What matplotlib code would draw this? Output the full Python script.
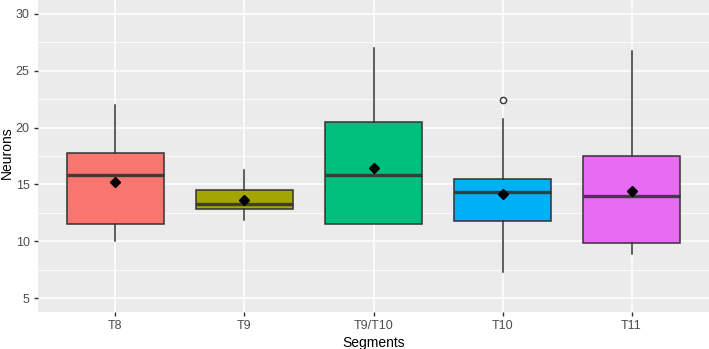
import matplotlib
matplotlib.use("Agg")
import matplotlib.pyplot as plt
from matplotlib.ticker import MultipleLocator

plt.rcParams['font.family'] = ['Liberation Sans', 'DejaVu Sans']

# --------------------------------------------
# Data (box summaries)
# --------------------------------------------
segments = ["T8", "T9", "T9/T10", "T10", "T11"]
whisk_lo = [10.0, 11.85, 11.5, 7.3, 8.85]
q1 = [11.5, 12.85, 11.5, 11.8, 9.8]
median = [15.8, 13.3, 15.8, 14.3, 14.0]
q3 = [17.8, 14.5, 20.5, 15.5, 17.5]
whisk_hi = [22.0, 16.25, 27.0, 20.75, 26.7]
means = [15.2, 13.6, 16.4, 14.15, 14.45]
outliers = [[], [], [], [22.4], []]

colors = ["#F8766D", "#A3A500", "#00BF7D", "#00B0F6", "#E76BF3"]

stats = []
for i, name in enumerate(segments):
    stats.append(dict(label=name, whislo=whisk_lo[i], q1=q1[i], med=median[i],
                      q3=q3[i], whishi=whisk_hi[i], mean=means[i],
                      fliers=outliers[i]))

# --------------------------------------------
# Figure, ggplot-like panel
# --------------------------------------------
fig = plt.figure(figsize=(7.09, 3.49), dpi=100)
ax = fig.add_axes([38 / 709, 37 / 349, 671 / 709, 312 / 349])
ax.set_facecolor("#EBEBEB")
for s in ax.spines.values():
    s.set_visible(False)

ax.yaxis.set_major_locator(MultipleLocator(5))
ax.yaxis.set_minor_locator(MultipleLocator(2.5))
ax.grid(which="major", color="white", linewidth=1.1)
ax.grid(which="minor", axis="y", color="white", linewidth=0.55)
ax.set_axisbelow(True)

positions = list(range(1, len(segments) + 1))
edge = "#333333"
bp = ax.bxp(stats, positions=positions, widths=0.75, patch_artist=True,
            showmeans=True, showcaps=False,
            boxprops=dict(edgecolor=edge, linewidth=1.1),
            whiskerprops=dict(color=edge, linewidth=1.1),
            medianprops=dict(color=edge, linewidth=2.4, alpha=0.9),
            meanprops=dict(marker="D", markerfacecolor="black",
                           markeredgecolor="black", markersize=5.5),
            flierprops=dict(marker="o", markerfacecolor="none",
                            markeredgecolor=edge, markersize=4.5,
                            markeredgewidth=1.0))
for patch, c in zip(bp["boxes"], colors):
    patch.set_facecolor(c)

ax.set_xlim(0.4, 5.6)
ax.set_ylim(3.77, 31.23)
ax.set_xticks(positions)
ax.set_xticklabels(segments)
ax.tick_params(which="major", length=3, width=1.0, color=edge,
               labelsize=9, labelcolor="#4D4D4D", pad=3)
ax.tick_params(which="minor", length=0)

ax.set_xlabel("Segments", fontsize=10, color="black", labelpad=3)
ax.set_ylabel("Neurons", fontsize=10, color="black", va="center")
ax.yaxis.set_label_coords(-31 / 671, 0.51)

fig.savefig("out.png", dpi=100)
